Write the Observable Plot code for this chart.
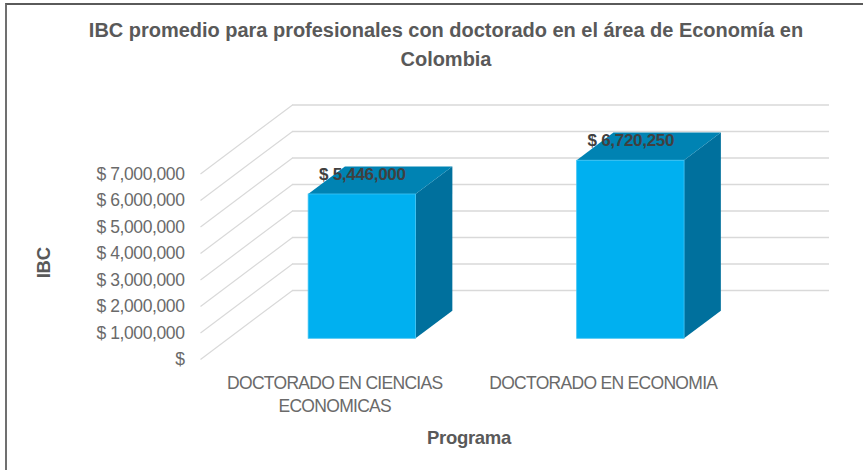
<!DOCTYPE html>
<html>
<head>
<meta charset="utf-8">
<script src="https://cdn.jsdelivr.net/npm/d3@7"></script>
<script src="https://cdn.jsdelivr.net/npm/@observablehq/plot@0.6"></script>
<style>
  html, body { margin: 0; padding: 0; background: #fff; }
  #chart { position: relative; width: 863px; height: 470px; overflow: hidden; background: #fff; }
  #frame { position: absolute; left: 5px; top: 3px; right: 0; bottom: 0; border-top: 2px solid #5a5a5a; border-left: 2px solid #707070; pointer-events: none; }
  #title { position: absolute; left: 0; top: 16px; width: 892px; text-align: center; font: bold 20px/29px "Liberation Sans", Arial, sans-serif; letter-spacing: -.02px; color: #595959; }
  #plot { position: absolute; left: 0; top: 90px; }
  #plot svg { background: transparent; }
  #plot g[aria-label="y-axis tick label"] { letter-spacing: -.4px; }
  #plot g[aria-label="x-axis tick label"] { letter-spacing: -.7px; }
  #plot g[aria-label="text"] { letter-spacing: -.3px; }
</style>
</head>
<body>
<div id="chart">
  <div id="frame"></div>
  <div id="title">IBC promedio para profesionales con doctorado en el área de Economía en<br>Colombia</div>
  <div id="plot"></div>
</div>
<script>
const programas = ["DOCTORADO EN CIENCIAS\nECONOMICAS", "DOCTORADO EN ECONOMIA"];
const ibc = [5446000, 6720250];
const ticks = [0, 1000000, 2000000, 3000000, 4000000, 5000000, 6000000, 7000000];

// oblique 3D projection, expressed in scale units
const depthX = 0.3426, depthY = 2604000;
const barHalf = 0.2, dFront = 0.3, dBack = 0.7;
const px = (c, d) => c + d * depthX;
const py = (v, d) => v + d * depthY;

const money = d => d === 0 ? "$" : "$ " + d3.format(",")(d);
const bars = programas.map((p, i) => ({ p, v: ibc[i], c: i + 0.5 }));

const side = bars.flatMap(b => [dFront, dBack].map(d => ({
  bar: b.p, x: px(b.c + barHalf, d), y1: py(0, d), y2: py(b.v, d)
})));
const top_ = bars.flatMap(b => [dFront, dBack].map(d => ({
  bar: b.p, y: py(b.v, d), x1: px(b.c - barHalf, d), x2: px(b.c + barHalf, d)
})));

const font = '"Liberation Sans", Arial, sans-serif';
const plot = Plot.plot({
  width: 863, height: 380,
  marginLeft: 200, marginRight: 34, marginTop: 14.5, marginBottom: 111,
  style: { fontFamily: font, overflow: "visible" },
  x: { type: "linear", domain: [0, 2 + depthX], axis: null },
  y: { type: "linear", domain: [0, 7000000 + depthY], axis: null },
  marks: [
    Plot.ruleY(ticks, { y: d => py(d, 1), x1: depthX, x2: 2 + depthX, stroke: "#d9d9d9", strokeWidth: 1.4 }),
    Plot.link(ticks, { x1: 0, y1: d => d, x2: depthX, y2: d => py(d, 1), stroke: "#d9d9d9", strokeWidth: 1.2 }),
    Plot.axisY({ ticks, tickFormat: money, tickSize: 0, tickPadding: 16, label: null, fontSize: 17.5, fill: "#6a6a6a", anchor: "left" }),
    Plot.axisX({ ticks: [0.5, 1.5], tickFormat: d => programas[d - 0.5], tickSize: 0, tickPadding: 13, label: null, fontSize: 17.5, fill: "#6a6a6a", anchor: "bottom", lineHeight: 1.32 }),
    Plot.text(["IBC"], { y: 3500000, frameAnchor: "left", textAnchor: "middle", dx: -156, dy: -4, rotate: -90, fontSize: 18.5, fontWeight: "bold", fill: "#595959" }),
    Plot.text(["Programa"], { x: 1, frameAnchor: "bottom", dy: 84, fontSize: 18.5, fontWeight: "bold", fill: "#595959" }),
    Plot.areaY(side, { x: "x", y1: "y1", y2: "y2", z: "bar", fill: "#00709d" }),
    Plot.areaX(top_, { y: "y", x1: "x1", x2: "x2", z: "bar", fill: "#0083b3" }),
    Plot.rect(bars, {
      x1: b => px(b.c - barHalf, dFront), x2: b => px(b.c + barHalf, dFront),
      y1: py(0, dFront), y2: b => py(b.v, dFront),
      fill: "#00b0f0", stroke: "#3fc3f3", strokeWidth: 0.8
    }),
    Plot.text(bars, {
      x: b => px(b.c, dFront), y: b => py(b.v, dFront), dy: -20,
      text: b => money(b.v), fontSize: 17, fontWeight: "bold", fill: "#404040"
    })
  ]
});
document.getElementById("plot").appendChild(plot);
</script>
</body>
</html>
